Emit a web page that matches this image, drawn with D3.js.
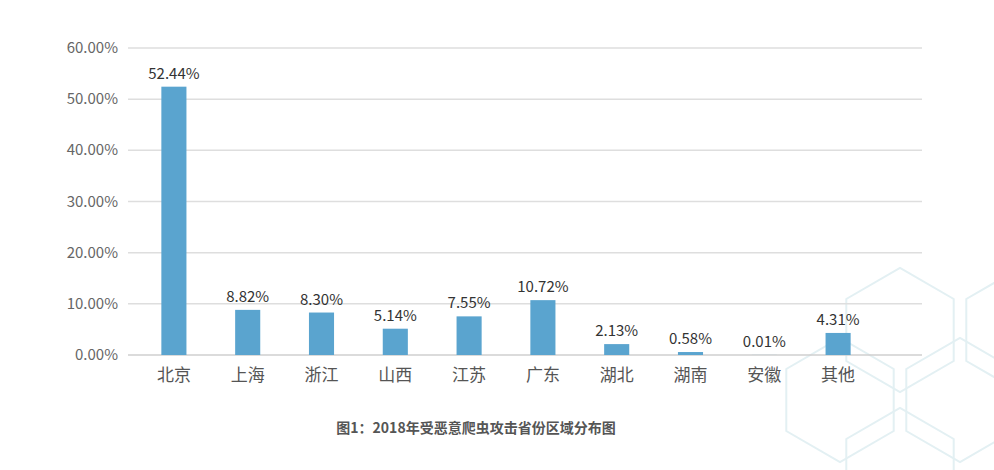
<!DOCTYPE html>
<html><head><meta charset="utf-8">
<script src="https://cdn.jsdelivr.net/npm/d3@7"></script>
<style>body{margin:0;background:#fff}svg{display:block}</style>
</head><body>
<svg id="c" width="994" height="470"></svg>
<script>
const categories = ["北京","上海","浙江","山西","江苏","广东","湖北","湖南","安徽","其他"];
const values = [52.44, 8.82, 8.30, 5.14, 7.55, 10.72, 2.13, 0.58, 0.01, 4.31];
const yTicks = [0,10,20,30,40,50,60];
const title = "图1：2018年受恶意爬虫攻击省份区域分布图";

const svg = d3.select("#c");
const font = "'Microsoft YaHei','Noto Sans CJK SC','DejaVu Sans',sans-serif";

// faint background hexagon decoration
const deco = svg.append("g").attr("stroke","#e3f0f3").attr("stroke-width",2).attr("fill","none");
[[900,330],[960,400],[840,400],[900,470],[1020,330]].forEach(([cx,cy])=>{
  const r=62;
  const pts=d3.range(6).map(i=>{const a=Math.PI/3*i+Math.PI/6;return [cx+r*Math.cos(a),cy+r*Math.sin(a)];});
  deco.append("polygon").attr("points",pts.map(p=>p.join(",")).join(" "));
});

const y = d3.scaleLinear().domain([0,60]).range([355,48]);
const x = d3.scaleBand().domain(categories).range([137,875]).paddingInner(0.66).paddingOuter(0.33);

const grid = svg.append("g");
yTicks.forEach(t=>{
  grid.append("line").attr("x1",128).attr("x2",922).attr("y1",y(t)).attr("y2",y(t))
    .attr("stroke", t===0 ? "#cfcfcf" : "#dedede").attr("stroke-width",1.5);
  grid.append("text").attr("x",118).attr("y",y(t)+5).attr("text-anchor","end")
    .attr("font-family",font).attr("font-size",15).attr("fill","#666")
    .text(t.toFixed(2)+"%");
});

svg.selectAll("rect.b").data(values).join("rect").attr("class","b")
  .attr("x",(d,i)=>x(categories[i])).attr("width",x.bandwidth())
  .attr("y",d=>y(d)).attr("height",d=>y(0)-y(d)).attr("fill","#5aa4cf");

svg.selectAll("text.v").data(values).join("text").attr("class","v")
  .attr("x",(d,i)=>x(categories[i])+x.bandwidth()/2).attr("y",d=>y(d)-8)
  .attr("text-anchor","middle").attr("font-family",font).attr("font-size",15).attr("fill","#333")
  .text(d=>d.toFixed(2)+"%");

svg.selectAll("text.c").data(categories).join("text").attr("class","c")
  .attr("x",d=>x(d)+x.bandwidth()/2).attr("y",381)
  .attr("text-anchor","middle").attr("font-family",font).attr("font-size",17).attr("fill","#555")
  .text(d=>d);

svg.append("text").attr("x",476).attr("y",433).attr("text-anchor","middle")
  .attr("font-family",font).attr("font-size",14).attr("font-weight","bold").attr("fill","#555")
  .text(title);
</script>
</body></html>
